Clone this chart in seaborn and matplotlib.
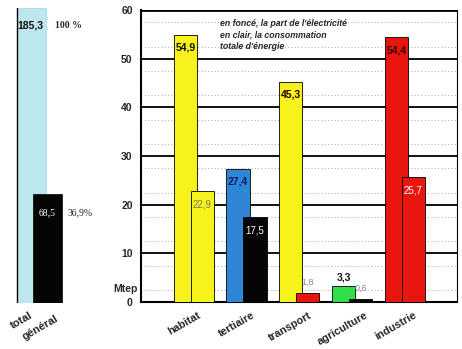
import numpy as np
import pandas as pd
import matplotlib
matplotlib.use("Agg")
import matplotlib.pyplot as plt
import seaborn as sns
from matplotlib.ticker import FixedLocator

# Final energy consumption by sector (Mtep): total vs. electricity share
sectors = ["habitat", "tertiaire", "transport", "agriculture", "industrie"]
total_energy = [54.9, 27.4, 45.3, 3.3, 54.4]
electricity = [22.9, 17.5, 1.8, 0.6, 25.7]
total_labels = ["54,9", "27,4", "45,3", "3,3", "54,4"]
elec_labels = ["22,9", "17,5", "1,8", "0,6", "25,7"]

overall_total = [185.3]
overall_elec = [68.5]
overall_labels = ["185,3", "68,5"]
share_labels = ["100 %", "36,9%"]

yticks = [0, 10, 20, 30, 40, 50, 60]
ytick_labels = ["0", "10", "20", "30", "40", "50", "60"]

total_colors = ["#f7f21c", "#2f86d6", "#f7f21c", "#2ee04a", "#e8160f"]
elec_colors = ["#f7f21c", "#050505", "#e8160f", "#050505", "#e8160f"]

sns.set_theme(style="white")
plt.rcParams["font.family"] = ["Liberation Sans", "DejaVu Sans"]

fig = plt.figure(figsize=(4.62, 3.49), dpi=100)
fig.patch.set_facecolor("white")

# ---------------- main sector chart ----------------
ax = fig.add_axes([141 / 462, 1 - 302 / 349, 316 / 462, 292 / 349])
ax.set_facecolor("white")

offset = 0.32
bar_w = 0.44
df_total = pd.DataFrame({"pos": np.arange(len(sectors)) * 1.0,
                         "value": total_energy, "sector": sectors})
df_elec = pd.DataFrame({"pos": np.arange(len(sectors)) + offset,
                        "value": electricity, "sector": sectors})

sns.barplot(data=df_total, x="pos", y="value", hue="sector",
            palette=dict(zip(sectors, total_colors)), native_scale=True,
            width=bar_w, dodge=False, legend=False, saturation=1,
            edgecolor="black", linewidth=0.6, ax=ax, zorder=3)
sns.barplot(data=df_elec, x="pos", y="value", hue="sector",
            palette=dict(zip(sectors, elec_colors)), native_scale=True,
            width=bar_w, dodge=False, legend=False, saturation=1,
            edgecolor="black", linewidth=0.6, ax=ax, zorder=4)

ax.set_xlim(-0.84, 5.15)
ax.set_ylim(0, 60)

# horizontal rules: solid every 10, dotted in between
for y in yticks[1:-1]:
    ax.axhline(y, color="black", lw=1.3, zorder=1)
ax.axhline(60, color="black", lw=2.0, zorder=1)
ax.yaxis.set_minor_locator(FixedLocator(np.arange(2.5, 60, 5)))
ax.grid(which="minor", axis="y", color="#8a8a8a", lw=0.6, ls=(0, (1, 3)), zorder=0)

for side in ["left", "bottom", "right"]:
    ax.spines[side].set_color("black")
ax.spines["left"].set_linewidth(1.5)
ax.spines["bottom"].set_linewidth(1.5)
ax.spines["right"].set_linewidth(0.8)
ax.spines["top"].set_visible(False)

ax.set_yticks(yticks)
ax.set_yticklabels(ytick_labels, fontsize=7.5, fontweight="bold")
ax.tick_params(axis="y", length=0, pad=6)
ax.set_xticks(np.arange(len(sectors)) - 0.02)
ax.set_xticklabels(sectors, rotation=30, fontsize=7.8, fontweight="bold",
                   ha="center")
ax.tick_params(axis="x", length=0, pad=6)
ax.set_xlabel("")
ax.set_ylabel("")
ax.text(-0.9, 2.6, "Mtep", fontsize=7.5, fontweight="bold", ha="right",
        va="center")

# value labels
tot_text_col = ["#111111", "#0a1a60", "#220000", "#111111", "#300000"]
for i, (v, lab) in enumerate(zip(total_energy, total_labels)):
    if v > 10:
        ax.text(i, v - 2.7, lab, ha="center", va="center", fontsize=7.5,
                fontweight="bold", color=tot_text_col[i], zorder=6)
    else:
        ax.text(i, v + 1.8, lab, ha="center", va="center", fontsize=7.5,
                fontweight="bold", color="#111111", zorder=6)

elec_text_col = ["#777766", "white", "#888888", "#888888", "white"]
for i, (v, lab) in enumerate(zip(electricity, elec_labels)):
    if v > 10:
        ax.text(i + offset, v - 2.8, lab, ha="center", va="center",
                fontsize=7, color=elec_text_col[i], zorder=6)
    else:
        ax.text(i + offset, v + 2.2, lab, ha="center", va="center",
                fontsize=6.5, color=elec_text_col[i], zorder=6)

ax.text(0.66, 58.2, "en foncé, la part de l'électricité\nen clair, la consommation\ntotale d'énergie",
        ha="left", va="top", fontsize=6.3, fontstyle="italic", fontweight="bold",
        linespacing=1.4, zorder=6)

# ---------------- overall total ----------------
ax2 = fig.add_axes([10 / 462, 1 - 303 / 349, 60 / 462, 295 / 349])
ax2.set_facecolor("none")
df_all_t = pd.DataFrame({"pos": [21.5], "value": overall_total})
df_all_e = pd.DataFrame({"pos": [37.5], "value": overall_elec})
sns.barplot(data=df_all_t, x="pos", y="value", native_scale=True, width=29,
            color="#bde7ee", saturation=1, edgecolor="#a4d8e0", linewidth=0.5,
            ax=ax2)
sns.barplot(data=df_all_e, x="pos", y="value", native_scale=True, width=29,
            color="#050505", saturation=1, edgecolor="black", linewidth=0.5,
            ax=ax2)
ax2.axvline(7, ymin=0, ymax=1, color="black", lw=1.0)
ax2.set_xlim(0, 60)
ax2.set_ylim(0, 185.3)
ax2.axis("off")

ax2.text(7.5, overall_total[0] - 11, overall_labels[0], ha="left", va="center",
         fontsize=7.5, fontweight="bold", color="#111111")
ax2.text(45, overall_total[0] - 11, share_labels[0], ha="left", va="center",
         fontsize=7, fontweight="bold", family="Liberation Serif")
ax2.text(37.5, overall_elec[0] - 12, overall_labels[1], ha="center", va="center",
         fontsize=7, color="white", family="Liberation Serif")
ax2.text(58, overall_elec[0] - 12, share_labels[1], ha="left", va="center",
         fontsize=7, family="Liberation Serif")

fig.text(22 / 462, 1 - 320 / 349, "total", rotation=30, ha="center",
         va="center", fontsize=8, fontweight="bold")
fig.text(40 / 462, 1 - 328 / 349, "général", rotation=30, ha="center",
         va="center", fontsize=8, fontweight="bold")

fig.savefig("out.png", dpi=100, facecolor="white")
